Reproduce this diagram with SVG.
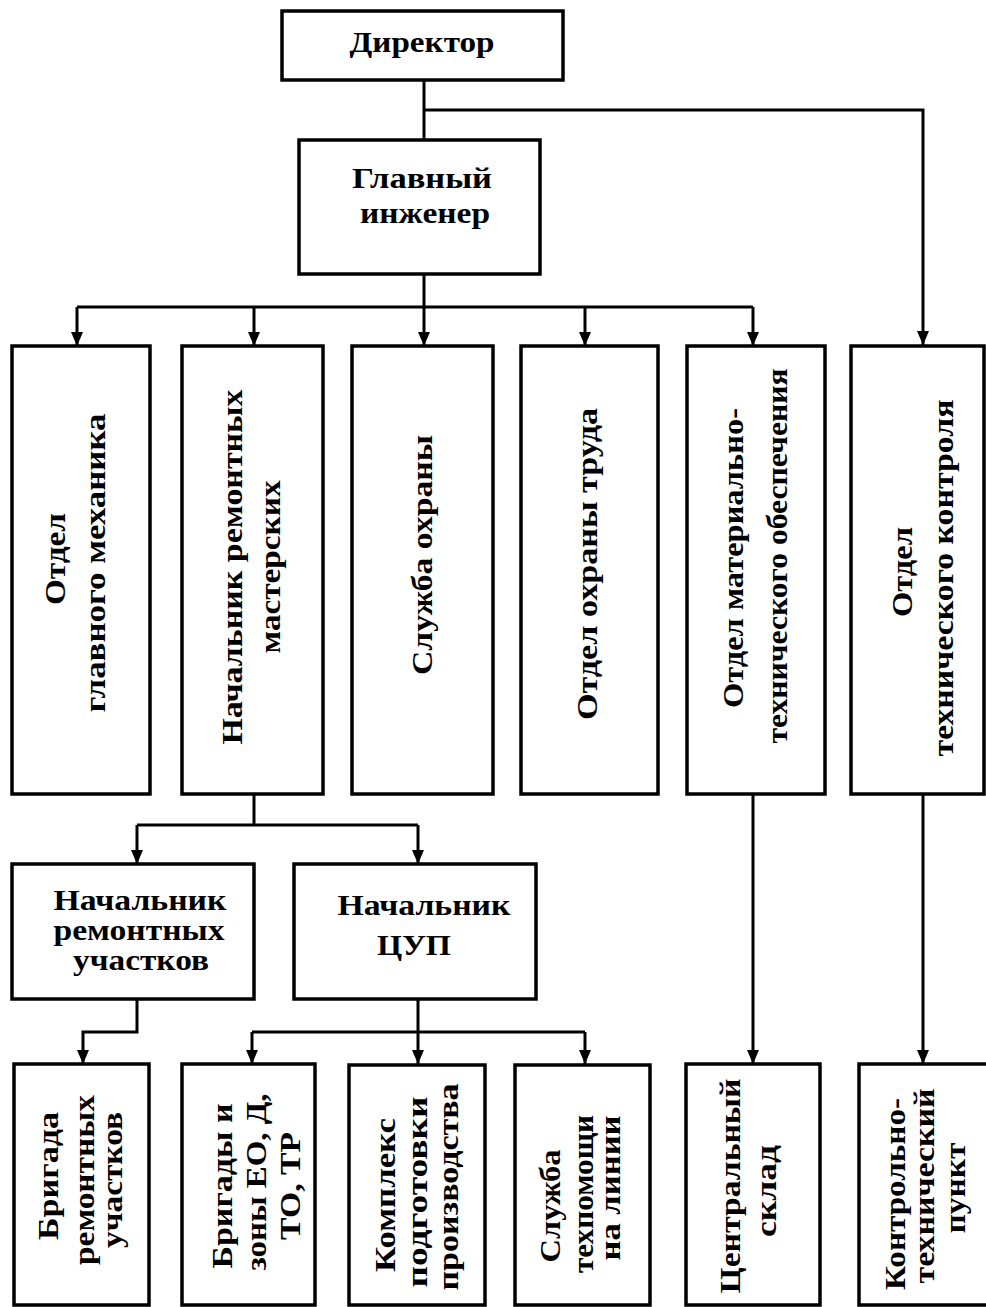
<svg xmlns="http://www.w3.org/2000/svg" width="986" height="1307" viewBox="0 0 986 1307">
<style>
.box{fill:#fff;stroke:#000;stroke-width:3.5}
.t{font-family:"Liberation Serif","Times New Roman",serif;font-weight:bold;font-size:30px;fill:#000;text-anchor:middle}
.c{fill:none;stroke:#000;stroke-width:3}
.a{marker-end:url(#arr)}
</style>
<defs>
<marker id="arr" viewBox="0 0 14 12" refX="14" refY="6" markerWidth="14" markerHeight="12" markerUnits="userSpaceOnUse" orient="auto">
<path d="M0,0 L14,6 L0,12 Z" fill="#000"/>
</marker>
</defs>
<rect width="986" height="1307" fill="#fff"/>
<g id="connectors">
<path class="c" d="M424,80 V140"/>
<path class="c a" d="M424,110 H923 V345"/>
<path class="c" d="M424,274 V307 M77,307 H753"/>
<path class="c a" d="M77,307 V346"/>
<path class="c a" d="M254,307 V346"/>
<path class="c a" d="M424,307 V346"/>
<path class="c a" d="M585,307 V346"/>
<path class="c a" d="M753,307 V346"/>
<path class="c" d="M254,794 V825 M137,825 H418"/>
<path class="c a" d="M137,825 V864"/>
<path class="c a" d="M418,825 V864"/>
<path class="c a" d="M137,999 V1032 H83 V1064"/>
<path class="c" d="M418,999 V1032 M252,1032 H585"/>
<path class="c a" d="M252,1032 V1064"/>
<path class="c a" d="M418,1032 V1064"/>
<path class="c a" d="M585,1032 V1064"/>
<path class="c a" d="M753,794 V1064"/>
<path class="c a" d="M923,794 V1064"/>
</g>
<g id="director">
<rect class="box" x="282" y="11" width="281" height="69"/>
<text class="t" x="422" y="52" textLength="145" lengthAdjust="spacingAndGlyphs">Директор</text>
</g>
<g id="chief-engineer">
<rect class="box" x="299" y="140" width="241" height="134"/>
<text class="t" x="422" y="188" textLength="140" lengthAdjust="spacingAndGlyphs">Главный</text>
<text class="t" x="425" y="223" textLength="130" lengthAdjust="spacingAndGlyphs">инженер</text>
</g>
<g id="chief-mechanic">
<rect class="box" x="12" y="346" width="138" height="448"/>
<text class="t" x="65" y="559" transform="rotate(-90 65 559)" textLength="92" lengthAdjust="spacingAndGlyphs">Отдел</text>
<text class="t" x="105" y="563" transform="rotate(-90 105 563)" textLength="299" lengthAdjust="spacingAndGlyphs">главного механика</text>
</g>
<g id="repair-shops">
<rect class="box" x="182" y="346" width="141" height="448"/>
<text class="t" x="242" y="567" transform="rotate(-90 242 567)" textLength="355" lengthAdjust="spacingAndGlyphs">Начальник ремонтных</text>
<text class="t" x="280" y="567" transform="rotate(-90 280 567)" textLength="173" lengthAdjust="spacingAndGlyphs">мастерских</text>
</g>
<g id="security">
<rect class="box" x="352" y="346" width="141" height="448"/>
<text class="t" x="432" y="555" transform="rotate(-90 432 555)" textLength="240" lengthAdjust="spacingAndGlyphs">Служба охраны</text>
</g>
<g id="labour-safety">
<rect class="box" x="521" y="346" width="137" height="448"/>
<text class="t" x="597" y="564" transform="rotate(-90 597 564)" textLength="312" lengthAdjust="spacingAndGlyphs">Отдел охраны труда</text>
</g>
<g id="supply">
<rect class="box" x="687" y="346" width="138" height="448"/>
<text class="t" x="743" y="558" transform="rotate(-90 743 558)" textLength="300" lengthAdjust="spacingAndGlyphs">Отдел материально-</text>
<text class="t" x="787" y="556" transform="rotate(-90 787 556)" textLength="375" lengthAdjust="spacingAndGlyphs">технического обеспечения</text>
</g>
<g id="quality-control">
<rect class="box" x="851" y="346" width="133" height="448"/>
<text class="t" x="912" y="572" transform="rotate(-90 912 572)" textLength="90" lengthAdjust="spacingAndGlyphs">Отдел</text>
<text class="t" x="953" y="578" transform="rotate(-90 953 578)" textLength="357" lengthAdjust="spacingAndGlyphs">технического контроля</text>
</g>
<g id="repair-sections-head">
<rect class="box" x="12" y="864" width="242" height="135"/>
<text class="t" x="140" y="910" textLength="173" lengthAdjust="spacingAndGlyphs">Начальник</text>
<text class="t" x="139" y="940" textLength="171" lengthAdjust="spacingAndGlyphs">ремонтных</text>
<text class="t" x="141" y="970" textLength="136" lengthAdjust="spacingAndGlyphs">участков</text>
</g>
<g id="cup-head">
<rect class="box" x="294" y="864" width="242" height="135"/>
<text class="t" x="424" y="915" textLength="173" lengthAdjust="spacingAndGlyphs">Начальник</text>
<text class="t" x="414" y="955" textLength="74" lengthAdjust="spacingAndGlyphs">ЦУП</text>
</g>
<g id="repair-brigade">
<rect class="box" x="14" y="1064" width="135" height="241"/>
<text class="t" x="58" y="1176" transform="rotate(-90 58 1176)" textLength="128" lengthAdjust="spacingAndGlyphs">Бригада</text>
<text class="t" x="94" y="1180" transform="rotate(-90 94 1180)" textLength="170" lengthAdjust="spacingAndGlyphs">ремонтных</text>
<text class="t" x="122" y="1180" transform="rotate(-90 122 1180)" textLength="136" lengthAdjust="spacingAndGlyphs">участков</text>
</g>
<g id="brigades-zones">
<rect class="box" x="182" y="1064" width="133" height="241"/>
<text class="t" x="232" y="1186" transform="rotate(-90 232 1186)" textLength="165" lengthAdjust="spacingAndGlyphs">Бригады и</text>
<text class="t" x="266" y="1182" transform="rotate(-90 266 1182)" textLength="177" lengthAdjust="spacingAndGlyphs">зоны ЕО, Д,</text>
<text class="t" x="300" y="1186" transform="rotate(-90 300 1186)" textLength="108" lengthAdjust="spacingAndGlyphs">ТО, ТР</text>
</g>
<g id="production-prep">
<rect class="box" x="349" y="1065" width="136" height="240"/>
<text class="t" x="395" y="1195" transform="rotate(-90 395 1195)" textLength="154" lengthAdjust="spacingAndGlyphs">Комплекс</text>
<text class="t" x="427" y="1192" transform="rotate(-90 427 1192)" textLength="191" lengthAdjust="spacingAndGlyphs">подготовки</text>
<text class="t" x="458" y="1187" transform="rotate(-90 458 1187)" textLength="207" lengthAdjust="spacingAndGlyphs">производства</text>
</g>
<g id="roadside-service">
<rect class="box" x="515" y="1065" width="135" height="240"/>
<text class="t" x="560" y="1206" transform="rotate(-90 560 1206)" textLength="113" lengthAdjust="spacingAndGlyphs">Служба</text>
<text class="t" x="593" y="1194" transform="rotate(-90 593 1194)" textLength="158" lengthAdjust="spacingAndGlyphs">техпомощи</text>
<text class="t" x="620" y="1188" transform="rotate(-90 620 1188)" textLength="145" lengthAdjust="spacingAndGlyphs">на линии</text>
</g>
<g id="central-warehouse">
<rect class="box" x="686" y="1064" width="134" height="241"/>
<text class="t" x="740" y="1186" transform="rotate(-90 740 1186)" textLength="215" lengthAdjust="spacingAndGlyphs">Центральный</text>
<text class="t" x="776" y="1191" transform="rotate(-90 776 1191)" textLength="92" lengthAdjust="spacingAndGlyphs">склад</text>
</g>
<g id="checkpoint">
<rect class="box" x="859" y="1064" width="131" height="241"/>
<text class="t" x="905" y="1194" transform="rotate(-90 905 1194)" textLength="192" lengthAdjust="spacingAndGlyphs">Контрольно-</text>
<text class="t" x="934" y="1186" transform="rotate(-90 934 1186)" textLength="195" lengthAdjust="spacingAndGlyphs">технический</text>
<text class="t" x="965" y="1188" transform="rotate(-90 965 1188)" textLength="91" lengthAdjust="spacingAndGlyphs">пункт</text>
</g>
</svg>
